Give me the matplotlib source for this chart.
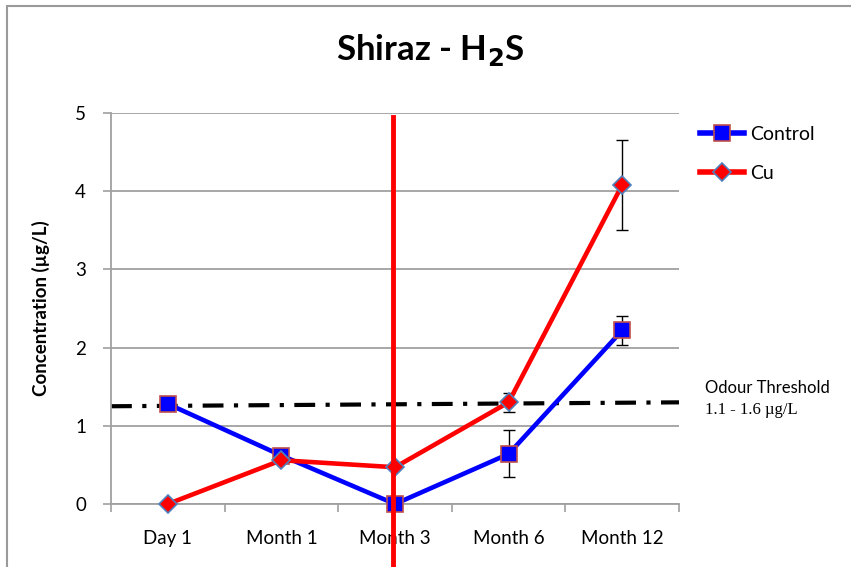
import matplotlib.pyplot as plt
import matplotlib.patches as patches
import numpy as np

categories = ['Day 1', 'Month 1', 'Month 3', 'Month 6', 'Month 12']
control = [1.28, 0.62, 0.0, 0.64, 2.22]
control_err = [0.0, 0.0, 0.0, 0.30, 0.19]
cu = [0.0, 0.56, 0.47, 1.30, 4.08]
cu_err = [0.05, 0.0, 0.0, 0.12, 0.57]
threshold = [1.25, 1.30]

plt.rcParams['font.family'] = ['Lato', 'DejaVu Sans']

fig = plt.figure(figsize=(8.51, 5.67), dpi=100)
ax = fig.add_axes([111 / 851, 1 - 504 / 567, 568 / 851, 391 / 567])

# chart border
fig.patches.append(patches.Rectangle((7 / 851, -0.1), 1.2, 1 - 6 / 567 + 0.1,
                                     transform=fig.transFigure, fill=False,
                                     edgecolor='#9a9a9a', linewidth=1.5))

x = np.arange(len(categories))
grid = '#a0a0a0'

ax.plot(x, control, color='#0000ff', linewidth=3.3, marker='s', markersize=11,
        markerfacecolor='#0000ff', markeredgecolor='#c0504d', markeredgewidth=1.2,
        label='Control', zorder=4, clip_on=False)
ax.errorbar(x, control, yerr=control_err, fmt='none', ecolor='black',
            elinewidth=1, capsize=4, zorder=3)
ax.plot(x, cu, color='#ff0000', linewidth=3.3, marker='D', markersize=9,
        markerfacecolor='#ff0000', markeredgecolor='#4f81bd', markeredgewidth=1.2,
        label='Cu', zorder=5, clip_on=False)
ax.errorbar(x, cu, yerr=cu_err, fmt='none', ecolor='black',
            elinewidth=1, capsize=4, zorder=3)

# odour threshold line
ax.plot([-0.5, 4.5], threshold, color='black', linewidth=3,
        linestyle=(0, (5, 2.5, 1, 2.5)), zorder=2)

# vertical marker at Month 3
ax.plot([1.98, 1.98], [-0.85, 4.95], color='#ff0000', linewidth=3.5,
        zorder=6, clip_on=False)

ax.set_xlim(-0.5, 4.5)
ax.set_ylim(0, 5)
ax.set_yticks(range(6))
ax.set_xticks(x)
ax.set_xticklabels(categories)
ax.set_xticks(np.arange(-0.5, 5, 1), minor=True)
ax.tick_params(axis='x', which='major', length=0, labelsize=13.5, pad=19)
ax.tick_params(axis='x', which='minor', length=6, color=grid, width=1.2, direction='out')
ax.tick_params(axis='y', length=6, color=grid, width=1.2, labelsize=13.5, pad=12)
ax.yaxis.grid(True, color=grid, linewidth=1.3)
ax.set_axisbelow(True)
for s in ['top', 'right']:
    ax.spines[s].set_visible(False)
for s in ['left', 'bottom']:
    ax.spines[s].set_color(grid)
    ax.spines[s].set_linewidth(1.3)

ax.set_ylabel('Concentration (µg/L)', fontsize=13.5, fontweight='bold', labelpad=18)

fig.text(430 / 851, 1 - 50 / 567, 'Shiraz - H$_\\mathbf{2}$S', fontsize=25,
         fontweight='bold', ha='center', va='center')

leg = ax.legend(loc='upper left', bbox_to_anchor=(682 / 851, 1 - 108 / 567),
                bbox_transform=fig.transFigure, frameon=False, fontsize=14,
                handlelength=2.3, labelspacing=1.15, handletextpad=0.3)
for line in leg.get_lines():
    line.set_linewidth(4)

fig.text(705 / 851, 1 - 388 / 567, 'Odour Threshold', fontsize=12, va='center')
fig.text(705 / 851, 1 - 410 / 567, '1.1 - 1.6 µg/L', fontsize=12, va='center',
         family='Liberation Serif')

fig.savefig('out.png', dpi=100)
